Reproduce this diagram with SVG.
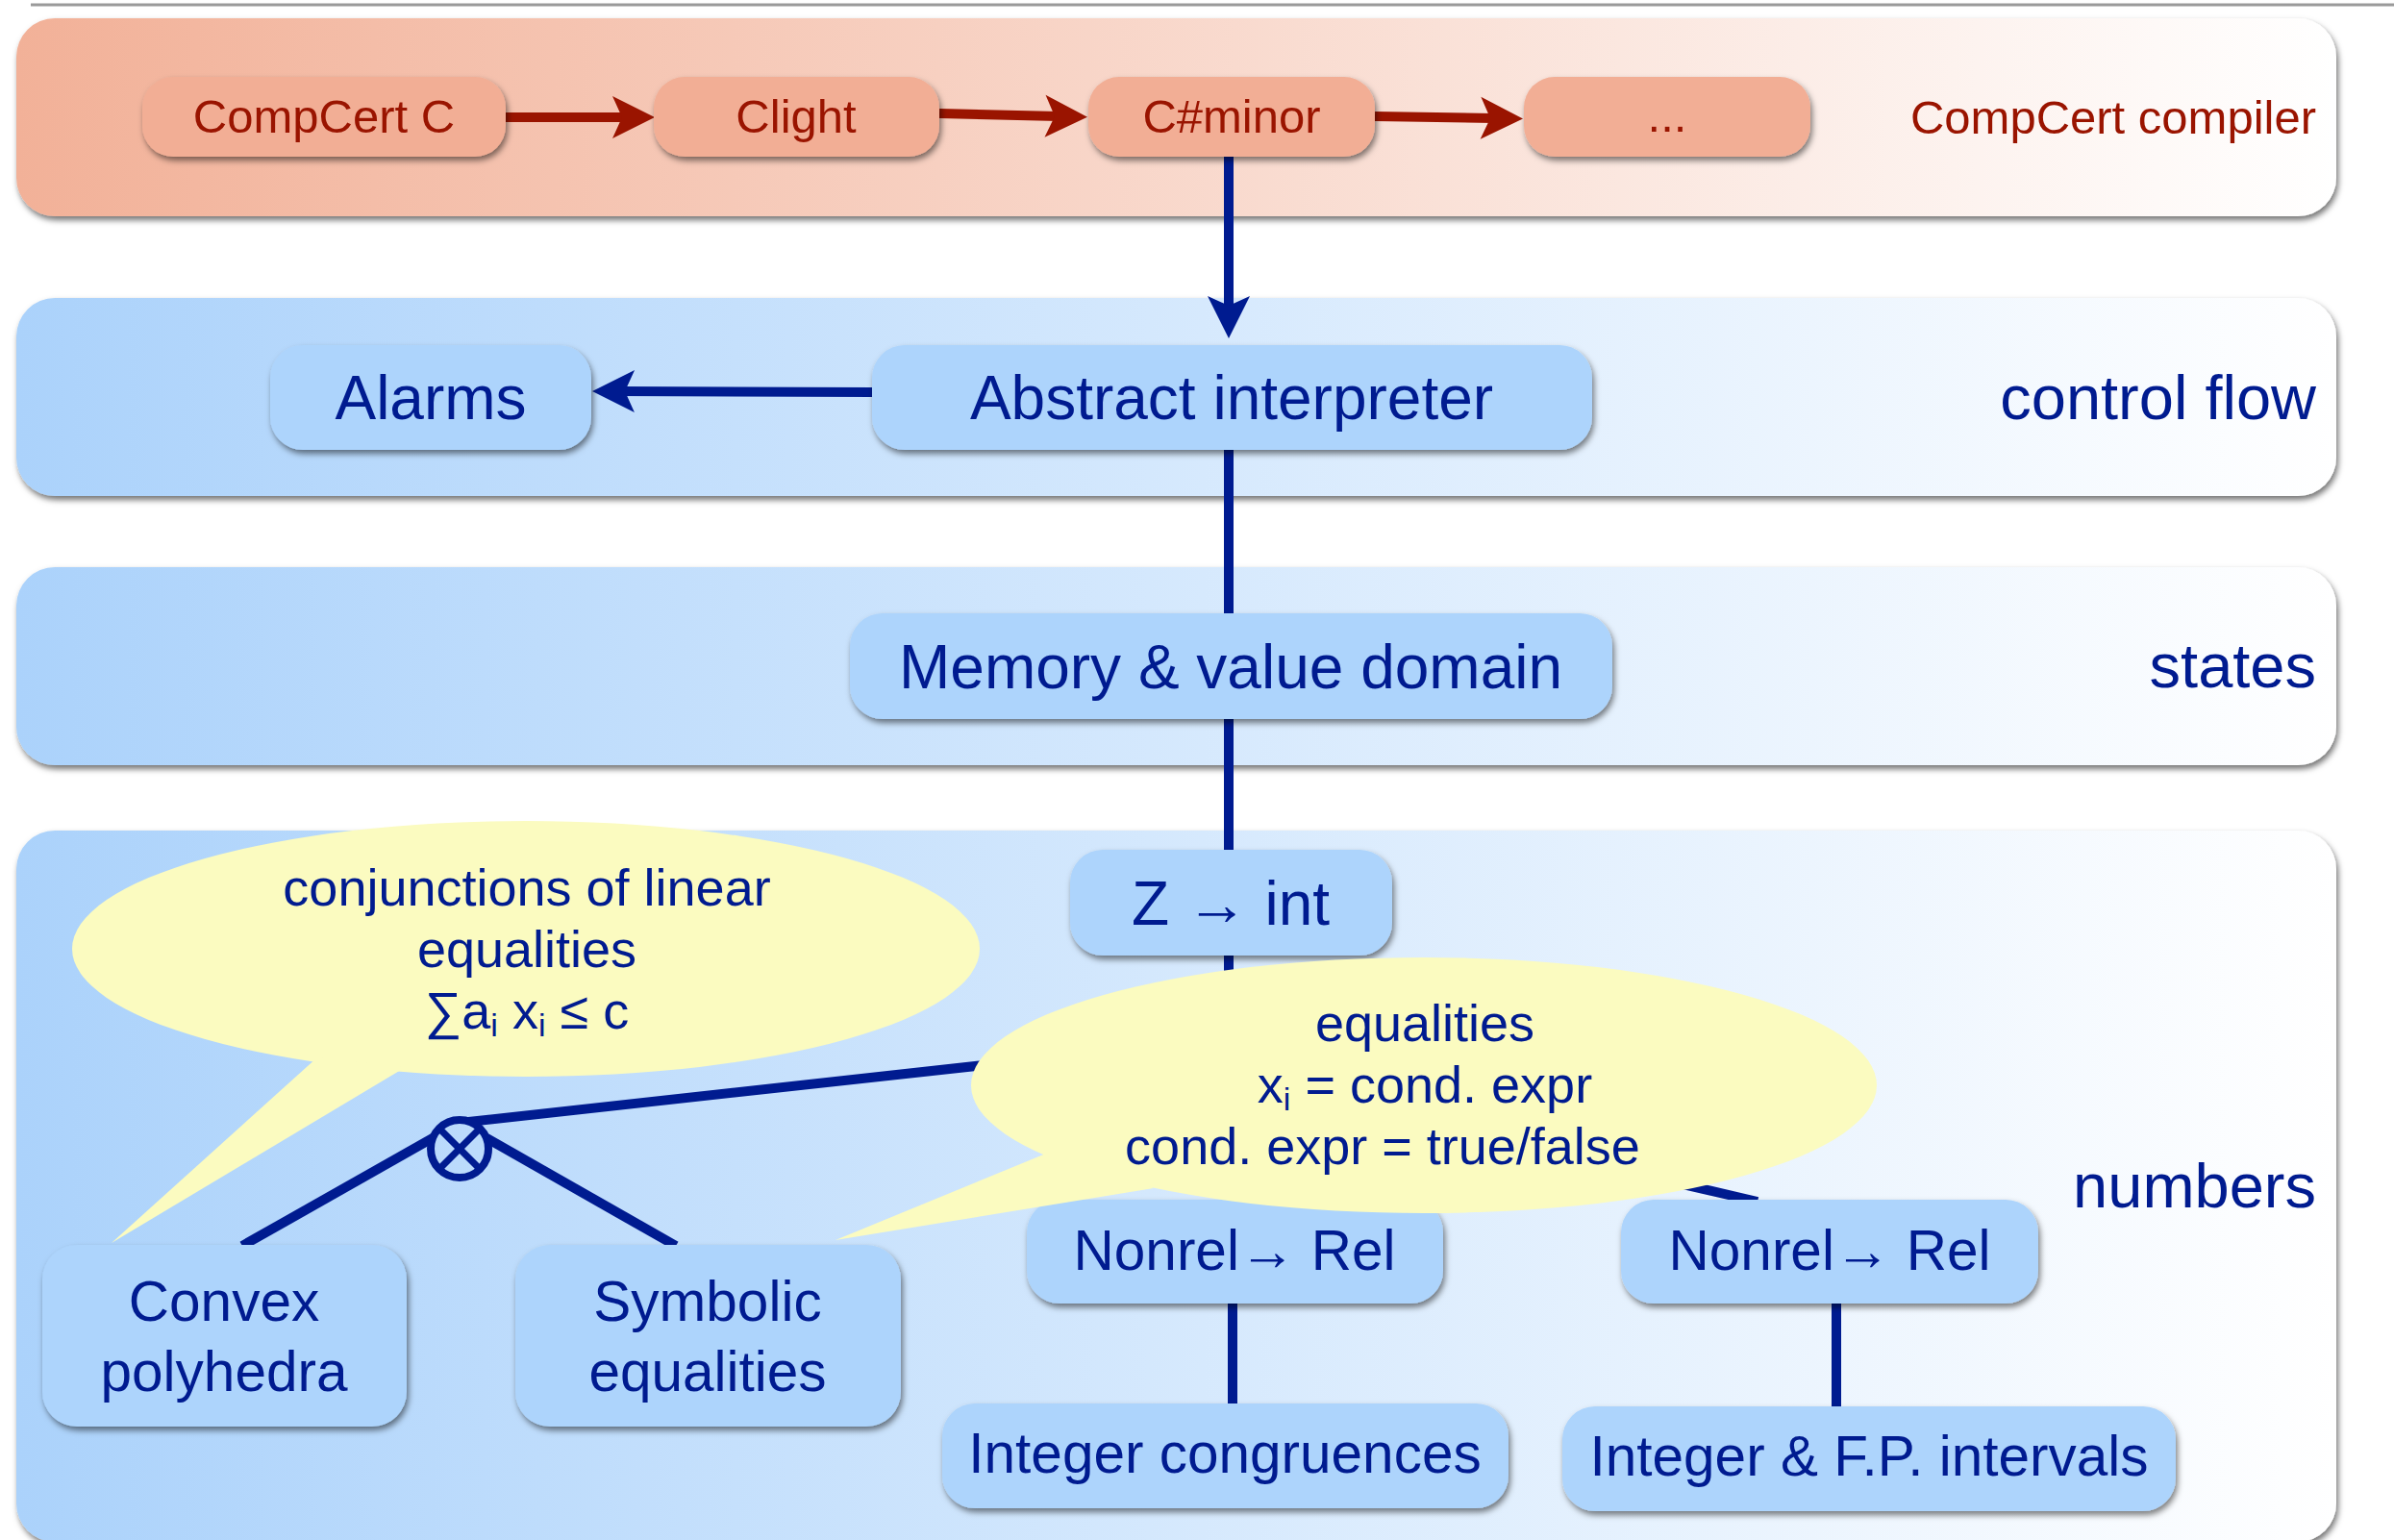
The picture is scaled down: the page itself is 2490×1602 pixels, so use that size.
<svg xmlns="http://www.w3.org/2000/svg" width="2490" height="1602" viewBox="0 0 2490 1602">
<defs>
<linearGradient id="gRed" gradientUnits="userSpaceOnUse" x1="17" y1="0" x2="2430" y2="0"><stop offset="0" stop-color="#F2B198"/><stop offset="1" stop-color="#FFFFFF"/></linearGradient>
<linearGradient id="gBlue" gradientUnits="userSpaceOnUse" x1="17" y1="0" x2="2430" y2="0"><stop offset="0" stop-color="#ABD2FB"/><stop offset="1" stop-color="#FFFFFF"/></linearGradient>
<filter id="shBand" x="-3%" y="-10%" width="106%" height="125%"><feDropShadow dx="2" dy="4" stdDeviation="3" flood-color="#000" flood-opacity="0.55"/></filter>
<filter id="shNode" x="-10%" y="-20%" width="120%" height="150%"><feDropShadow dx="2" dy="4" stdDeviation="3" flood-color="#000" flood-opacity="0.5"/></filter>
<marker id="arrRed" markerUnits="userSpaceOnUse" viewBox="-16 -24 48 48" markerWidth="48" markerHeight="48" refX="0" refY="0" orient="auto"><path d="M30,0 L-14,-22 L-4,0 L-14,22 Z" fill="#9A1400"/></marker>
<marker id="arrBlue" markerUnits="userSpaceOnUse" viewBox="-16 -24 48 48" markerWidth="48" markerHeight="48" refX="0" refY="0" orient="auto"><path d="M30,0 L-14,-22 L-4,0 L-14,22 Z" fill="#001B90"/></marker>
</defs>
<style>
text { font-family: "Liberation Sans", Arial, Helvetica, sans-serif; }
.bandR { fill: url(#gRed); filter: url(#shBand); }
.bandB { fill: url(#gBlue); filter: url(#shBand); }
.nR { fill: #F2AE95; filter: url(#shNode); }
.nB { fill: #ADD4FC; filter: url(#shNode); }
.tR { fill: #9A1400; font-size: 49px; text-anchor: middle; }
.tB { fill: #001B90; font-size: 64px; text-anchor: middle; }
.tS { fill: #001B90; font-size: 58.5px; text-anchor: middle; }
.lbl { fill: #001B90; font-size: 65px; text-anchor: end; }
.lblR { fill: #9A1400; font-size: 49px; text-anchor: end; }
.bub { fill: #FBFBC0; }
.tb { fill: #001B90; font-size: 54px; text-anchor: middle; }
.sub { font-size: 34px; }
.cR { stroke: #9A1400; stroke-width: 10; fill: none; }
.cB { stroke: #001B90; stroke-width: 10; fill: none; }
</style>
<line x1="32" y1="5" x2="2490" y2="5" stroke="#9A9A9A" stroke-width="3"/>
<g id="bands">
<rect id="band-compiler" class="bandR" x="17" y="19" width="2413" height="206" rx="40"/>
<rect id="band-control" class="bandB" x="17" y="310" width="2413" height="206" rx="40"/>
<rect id="band-states" class="bandB" x="17" y="590" width="2413" height="206" rx="40"/>
<rect id="band-numbers" class="bandB" x="17" y="864" width="2413" height="740" rx="40"/>
<text class="lblR" x="2409" y="139">CompCert compiler</text>
<text class="lbl" x="2409" y="436">control flow</text>
<text class="lbl" x="2409" y="715">states</text>
<text class="lbl" x="2409" y="1256">numbers</text>
</g>
<g id="connectors">
<line class="cR" x1="526" y1="122" x2="651" y2="122" marker-end="url(#arrRed)"/>
<line class="cR" x1="977" y1="118" x2="1101" y2="121" marker-end="url(#arrRed)"/>
<line class="cR" x1="1430" y1="121" x2="1554" y2="123" marker-end="url(#arrRed)"/>
<line class="cB" x1="1278" y1="163" x2="1278" y2="322" marker-end="url(#arrBlue)"/>
<line class="cB" x1="907" y1="408" x2="646" y2="407" marker-end="url(#arrBlue)"/>
<line class="cB" x1="1278" y1="468" x2="1278" y2="638"/>
<line class="cB" x1="1278" y1="748" x2="1278" y2="884"/>
<line class="cB" x1="1278" y1="994" x2="1278" y2="1250"/>
<line class="cB" x1="478" y1="1168" x2="1278" y2="1080"/>
<line class="cB" x1="1278" y1="1123" x2="1828" y2="1250"/>
<line class="cB" x1="478" y1="1168" x2="252" y2="1296"/>
<line class="cB" x1="478" y1="1168" x2="703" y2="1296"/>
<line class="cB" x1="1282" y1="1356" x2="1282" y2="1460"/>
<line class="cB" x1="1910" y1="1356" x2="1910" y2="1463"/>
<g id="product">
<circle cx="478" cy="1195" r="30" fill="url(#gBlue)" stroke="#001B90" stroke-width="8"/>
<line x1="457" y1="1174" x2="499" y2="1216" stroke="#001B90" stroke-width="7"/>
<line x1="499" y1="1174" x2="457" y2="1216" stroke="#001B90" stroke-width="7"/>
</g>
</g>
<g id="node-compcertc"><rect class="nR" x="148" y="80" width="378" height="83" rx="32"/><text class="tR" x="337" y="138">CompCert C</text></g>
<g id="node-clight"><rect class="nR" x="680" y="80" width="297" height="83" rx="32"/><text class="tR" x="828" y="138">Clight</text></g>
<g id="node-cminor"><rect class="nR" x="1132" y="80" width="298" height="83" rx="32"/><text class="tR" x="1281" y="138">C#minor</text></g>
<g id="node-dots"><rect class="nR" x="1585" y="80" width="298" height="83" rx="32"/><text class="tR" x="1734" y="137">...</text></g>
<g id="node-alarms"><rect class="nB" x="281" y="359" width="334" height="109" rx="34"/><text class="tB" x="448" y="436">Alarms</text></g>
<g id="node-absint"><rect class="nB" x="907" y="359" width="749" height="109" rx="34"/><text class="tB" x="1281" y="436">Abstract interpreter</text></g>
<g id="node-memory"><rect class="nB" x="884" y="638" width="793" height="110" rx="34"/><text class="tB" x="1280" y="716">Memory &amp; value domain</text></g>
<g id="node-zint"><rect class="nB" x="1113" y="884" width="335" height="110" rx="34"/><text class="tB" x="1280" y="962">Z → int</text></g>
<g id="node-convex"><rect class="nB" x="44" y="1295" width="379" height="189" rx="36"/><text class="tS" x="233" y="1374">Convex</text><text class="tS" x="233" y="1447">polyhedra</text></g>
<g id="node-symbolic"><rect class="nB" x="536" y="1295" width="401" height="189" rx="36"/><text class="tS" x="736" y="1374">Symbolic</text><text class="tS" x="736" y="1447">equalities</text></g>
<g id="node-nonrel1"><rect class="nB" x="1068" y="1248" width="433" height="108" rx="34"/><text class="tS" x="1284" y="1321">Nonrel→ Rel</text></g>
<g id="node-nonrel2"><rect class="nB" x="1686" y="1248" width="434" height="108" rx="34"/><text class="tS" x="1903" y="1321">Nonrel→ Rel</text></g>
<g id="node-congruences"><rect class="nB" x="980" y="1460" width="589" height="109" rx="34"/><text class="tS" x="1274" y="1532">Integer congruences</text></g>
<g id="node-intervals"><rect class="nB" x="1625" y="1463" width="638" height="109" rx="34"/><text class="tS" x="1944" y="1535">Integer &amp; F.P. intervals</text></g>
<g id="bubble-polyhedra">
<ellipse class="bub" cx="547" cy="987" rx="472" ry="133"/>
<polygon class="bub" points="330,1100 116,1293 422,1110"/>
<text class="tb" x="548" y="942">conjunctions of linear</text>
<text class="tb" x="548" y="1006">equalities</text>
<text class="tb" x="548" y="1070">∑a<tspan class="sub" dy="8">i</tspan><tspan dy="-8"> x</tspan><tspan class="sub" dy="8">i</tspan><tspan dy="-8"> ≤ c</tspan></text>
</g>
<g id="bubble-symbolic">
<ellipse class="bub" cx="1481" cy="1129" rx="471" ry="133"/>
<polygon class="bub" points="1100,1195 869,1290 1200,1236"/>
<text class="tb" x="1482" y="1083">equalities</text>
<text class="tb" x="1482" y="1147">x<tspan class="sub" dy="8">i</tspan><tspan dy="-8"> = cond. expr</tspan></text>
<text class="tb" x="1438" y="1211">cond. expr = true/false</text>
</g>
</svg>
